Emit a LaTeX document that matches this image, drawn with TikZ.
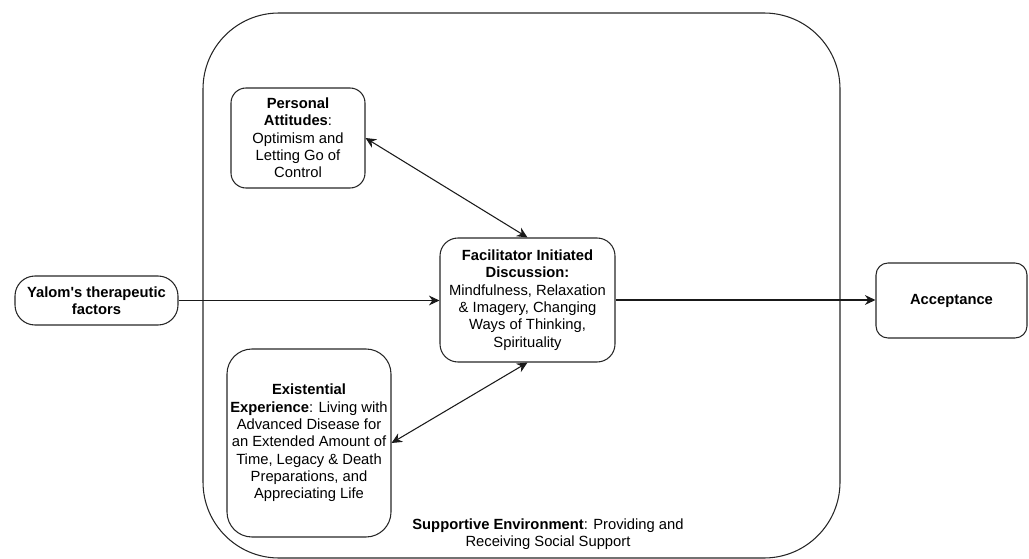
\documentclass[tikz,border=0pt]{standalone}
\usepackage{fontspec}
\setmainfont{Liberation Sans}
\usetikzlibrary{arrows.meta}

\begin{document}
\begin{tikzpicture}[x=1cm, y=1cm, font=\fontsize{10.5}{12.3}\selectfont,
    box/.style={draw=black!85, line width=0.75pt, rounded corners=#1, align=center, inner sep=1pt},
    arr/.style={draw=black!90, line width=0.75pt, -{Stealth[length=7.5pt, width=7pt]}},
    darr/.style={draw=black!90, line width=0.75pt, {Stealth[length=7.5pt, width=7pt]}-{Stealth[length=7.5pt, width=7pt]}}]
  \useasboundingbox (0, 0) rectangle (25.725, -13.975);
  % ---- supportive environment (outer frame) --------------------------------
  \node[box=1.9cm, minimum width=15.925cm, minimum height=13.625cm] (env) at (13.0375, -7.1375) {};
  \node[align=center, inner sep=0pt] (envlbl) at (13.7, -13.35)
    {\textbf{Supportive Environment}: Providing and\\Receiving Social Support};
  % ---- boxes ---------------------------------------------------------------
  \node[box=0.5cm, minimum width=4.075cm, minimum height=1.225cm] (yalom) at (2.4125, -7.5125)
    {\textbf{Yalom\textquotesingle s therapeutic}\\\textbf{factors}};
  \node[box=0.375cm, minimum width=3.35cm, minimum height=2.5cm] (pers) at (7.45, -3.45)
    {\textbf{Personal}\\\textbf{Attitudes}:\\Optimism and\\Letting Go of\\Control};
  \node[box=0.45cm, minimum width=4.375cm, minimum height=3.1cm] (facil) at (13.1875, -7.5)
    {\textbf{Facilitator Initiated}\\\textbf{Discussion:}\\Mindfulness, Relaxation\\\& Imagery, Changing\\Ways of Thinking,\\Spirituality};
  \node[box=0.625cm, minimum width=4.1cm, minimum height=4.7cm] (exist) at (7.725, -11.075)
    {\textbf{Existential}\\\textbf{Experience}: Living with\\Advanced Disease for\\an Extended Amount of\\Time, Legacy \& Death\\Preparations, and\\Appreciating Life};
  \node[box=0.3cm, minimum width=3.775cm, minimum height=1.875cm] (accept) at (23.7875, -7.5125)
    {\textbf{Acceptance}};
  % ---- connectors ----------------------------------------------------------
  \draw[arr] (yalom.east) -- (yalom.east -| facil.west);
  \draw[arr] (facil.east) -- (facil.east -| accept.west);
  \draw[darr] (pers.east) -- (facil.north);
  \draw[darr] (exist.east) -- (facil.south);
\end{tikzpicture}
\end{document}
